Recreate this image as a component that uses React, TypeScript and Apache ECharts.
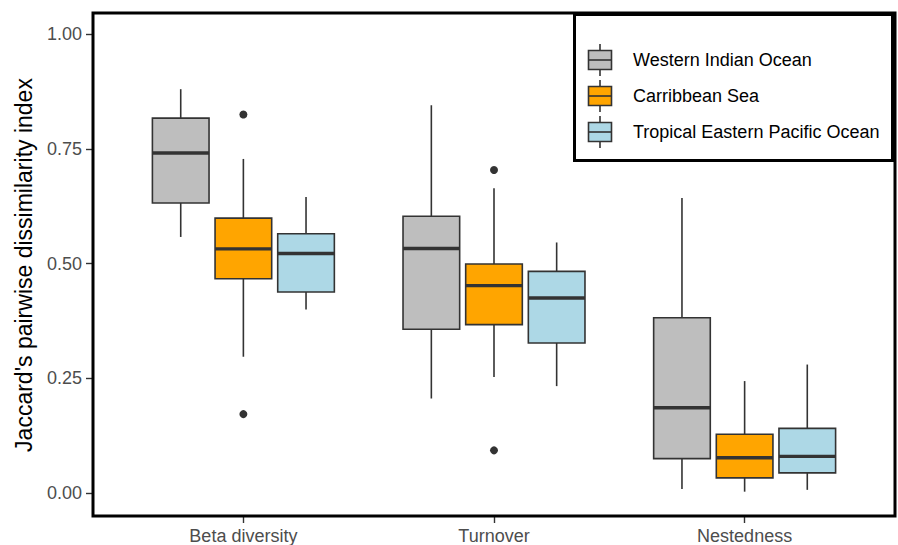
import React, { useEffect, useRef } from "react";
import * as echarts from "echarts";

const categories = ["Beta diversity", "Turnover", "Nestedness"];
const groups = ["Western Indian Ocean", "Carribbean Sea", "Tropical Eastern Pacific Ocean"];
const groupColors = ["#BEBEBE", "#FFA500", "#ADD8E6"];
const yTicks = [0, 0.25, 0.5, 0.75, 1.0];

// [low whisker, Q1, median, Q3, high whisker] per category
const westernIndian = [
  [0.558, 0.632, 0.741, 0.817, 0.88],
  [0.206, 0.357, 0.533, 0.603, 0.845],
  [0.009, 0.075, 0.186, 0.382, 0.643],
];
const caribbean = [
  [0.297, 0.467, 0.532, 0.599, 0.728],
  [0.253, 0.367, 0.452, 0.499, 0.664],
  [0.003, 0.033, 0.077, 0.128, 0.244],
];
const pacific = [
  [0.4, 0.438, 0.522, 0.565, 0.645],
  [0.233, 0.327, 0.425, 0.483, 0.546],
  [0.007, 0.044, 0.08, 0.141, 0.28],
];
// [group index, category index, value]
const outliers = [
  [1, 0, 0.825],
  [1, 0, 0.172],
  [1, 1, 0.704],
  [1, 1, 0.093],
];

const groupStats = [westernIndian, caribbean, pacific];
const dodge = 0.25;
const boxWidth = 0.226;
const lineColor = "#333333";
const fontFamily = "'Liberation Sans', Arial, sans-serif";

export default function App() {
  const ref = useRef<HTMLDivElement>(null);
  useEffect(() => {
    if (!ref.current) return;
    const chart = echarts.init(ref.current, null, { renderer: "svg" });
    const offsets = [-dodge, 0, dodge];

    const boxSeries = groupStats.map((stats, g) => ({
      type: "custom",
      name: groups[g],
      data: stats.map((s, c) => [c + 1 + offsets[g], ...s]),
      encode: { x: 0, y: [1, 2, 3, 4, 5] },
      renderItem: (params: any, api: any) => {
        const x = api.value(0);
        const low = api.coord([x, api.value(1)]);
        const q1 = api.coord([x, api.value(2)]);
        const med = api.coord([x, api.value(3)]);
        const q3 = api.coord([x, api.value(4)]);
        const high = api.coord([x, api.value(5)]);
        const w = api.size([boxWidth, 0])[0];
        const cx = low[0];
        return {
          type: "group",
          children: [
            { type: "line", shape: { x1: cx, y1: high[1], x2: cx, y2: q3[1] }, style: { stroke: lineColor, lineWidth: 1.6 } },
            { type: "line", shape: { x1: cx, y1: q1[1], x2: cx, y2: low[1] }, style: { stroke: lineColor, lineWidth: 1.6 } },
            { type: "rect", shape: { x: cx - w / 2, y: q3[1], width: w, height: q1[1] - q3[1] }, style: { fill: groupColors[g], stroke: lineColor, lineWidth: 1.6 } },
            { type: "line", shape: { x1: cx - w / 2, y1: med[1], x2: cx + w / 2, y2: med[1] }, style: { stroke: lineColor, lineWidth: 3.4 } },
          ],
        };
      },
    }));

    const legendTop = 60;
    const legendStep = 36;
    const legendChildren: any[] = [
      { type: "rect", shape: { x: 574.5, y: 14.5, width: 318, height: 146 }, style: { fill: "#fff", stroke: "#000", lineWidth: 3 }, z: 100 },
    ];
    groups.forEach((name, i) => {
      const cy = legendTop + i * legendStep;
      legendChildren.push(
        { type: "line", shape: { x1: 600, y1: cy - 16, x2: 600, y2: cy + 16 }, style: { stroke: lineColor, lineWidth: 1.6 }, z: 101 },
        { type: "rect", shape: { x: 588.5, y: cy - 9.5, width: 23, height: 19 }, style: { fill: groupColors[i], stroke: lineColor, lineWidth: 1.6 }, z: 102 },
        { type: "line", shape: { x1: 588.5, y1: cy, x2: 611.5, y2: cy }, style: { stroke: lineColor, lineWidth: 1.6 }, z: 103 },
        { type: "text", x: 633, y: cy, style: { text: name, fill: "#000", font: `18px ${fontFamily}`, textVerticalAlign: "middle", textAlign: "left" }, z: 103 }
      );
    });

    chart.setOption({
      animation: false,
      backgroundColor: "#fff",
      grid: { left: 93, top: 13, width: 802, height: 504, show: true, borderColor: "#000", borderWidth: 3, backgroundColor: "transparent", z: 10 },
      xAxis: {
        type: "value",
        min: 0.4,
        max: 3.6,
        axisLine: { show: false, onZero: false },
        splitLine: { show: false },
        axisTick: { show: true, customValues: [1, 2, 3], length: 7, lineStyle: { color: lineColor, width: 1.4 } },
        axisLabel: {
          customValues: [1, 2, 3],
          formatter: (v: number) => categories[Math.round(v) - 1] ?? "",
          color: "#4D4D4D",
          fontSize: 18,
          fontFamily,
          margin: 11,
        },
      },
      yAxis: {
        type: "value",
        min: -0.05,
        max: 1.046,
        axisLine: { show: false, onZero: false },
        splitLine: { show: false },
        axisTick: { show: true, customValues: yTicks, length: 7, lineStyle: { color: lineColor, width: 1.4 } },
        axisLabel: {
          customValues: yTicks,
          formatter: (v: number) => v.toFixed(2),
          color: "#4D4D4D",
          fontSize: 18,
          fontFamily,
          margin: 11,
        },
      },
      graphic: [
        {
          type: "text",
          x: 24,
          y: 265,
          rotation: Math.PI / 2,
          style: { text: "Jaccard's pairwise dissimilarity index", fill: "#000", font: `23px ${fontFamily}`, textAlign: "center", textVerticalAlign: "middle" },
        },
        { type: "group", children: legendChildren, z: 100 },
      ],
      series: [
        ...boxSeries,
        {
          type: "scatter",
          name: "outliers",
          data: outliers.map(([g, c, v]) => [c + 1 + offsets[g], v]),
          symbol: "circle",
          symbolSize: 8,
          itemStyle: { color: lineColor, opacity: 1 },
          z: 5,
        },
      ],
    } as any);
    return () => chart.dispose();
  }, []);
  return <div ref={ref} style={{ position: "fixed", left: 0, top: 0, width: 898, height: 545 }} />;
}
